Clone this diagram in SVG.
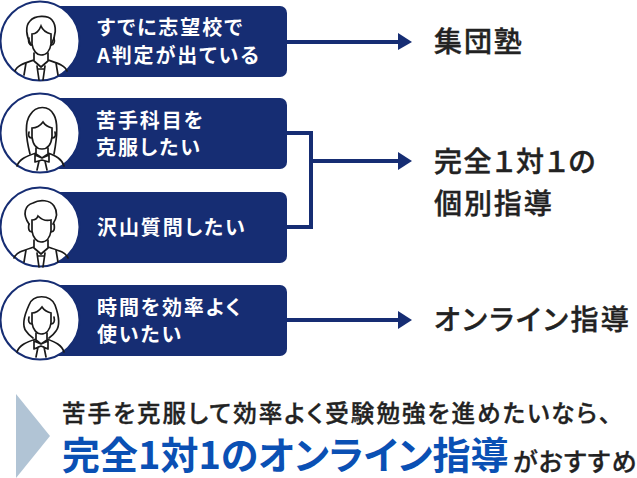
<svg xmlns="http://www.w3.org/2000/svg" width="637" height="478" viewBox="0 0 637 478">
<style>
text{font-family:"Noto Sans CJK JP","Noto Sans",sans-serif;font-feature-settings:"palt"}
.bar{fill:#162d73}
.ring{fill:#fff;stroke:#162d73;stroke-width:2}
.ic{fill:none;stroke:#1a1a1a;stroke-width:1.7;stroke-linejoin:round;stroke-linecap:round}
.face{fill:#fff;stroke:#1a1a1a;stroke-width:1.7}
.lb{fill:#fff;font-size:20px;font-weight:700;letter-spacing:1.9px}
.dst{fill:#222;stroke:#222;stroke-width:.4px;font-size:28px;font-weight:500;letter-spacing:1.9px}
.cn{fill:none;stroke:#162d73;stroke-width:4}
.ah{fill:#162d73}
</style>
<g id="node-1">
<rect class="bar" x="30" y="6" width="257" height="71" rx="7"/>
<circle class="ring" cx="40" cy="41" r="39.5"/>
<path class="ic" d="M31 45C26 36 25 26 30 21C35 15 48 15 52 20C57 26 56 36 51 45"/>
<path class="face" d="M32 34V44C33 51 37 55 41 55C46 55 50 51 51 44V34C47 33 43 31 41 26C39 31 36 34 32 34Z"/>
<path class="ic" d="M29 38C28 42 29 45 32 45M54 38C55 42 54 45 51 45M34 53V61L41 67L48 61V53M15 71C17 65 25 63 34 60M67 71C65 65 57 63 48 60M26 63L24 75M56 63L58 75M37 66L39 80M45 66L43 80M38 69H44"/>
<text class="lb" x="97" y="35">すでに志望校で</text>
<text class="lb" x="97" y="63">A判定が出ている</text>
</g>
<g id="node-2">
<rect class="bar" x="30" y="98" width="257" height="71" rx="7"/>
<circle class="ring" cx="40" cy="133" r="39.5"/>
<path class="ic" d="M30 154C26 138 25 122 30 115C36 105 49 105 54 115C58 122 57 138 54 154"/>
<path class="face" d="M32 128V137C33 145 37 149 42 149C47 149 51 145 52 137V128C48 127 45 125 43 122C40 126 36 128 32 128Z"/>
<path class="ic" d="M29 132C28 136 29 138 32 138M55 132C56 136 55 138 52 138M36 148V154L42 158L48 154V148M17 166C19 159 27 156 36 153M64 166C62 159 56 156 48 153M42 158L35 155V162L42 160L49 162V155L42 158M39 161L37 170M45 161L47 170"/>
<text class="lb" x="96" y="128">苦手科目を</text>
<text class="lb" x="96" y="155">克服したい</text>
</g>
<g id="node-3">
<rect class="bar" x="30" y="192" width="257" height="71" rx="7"/>
<circle class="ring" cx="40" cy="227" r="39.5"/>
<path class="ic" d="M29 224C22 214 25 205 33 203C40 199 50 200 54 206C58 212 57 218 53 224"/>
<path class="face" d="M32 220V231C33 238 37 242 41 242C46 242 50 238 51 231V220C47 221 42 220 38 216C37 219 35 220 32 220Z"/>
<path class="ic" d="M29 224C28 229 29 232 32 232M54 224C55 229 54 232 51 232M34 240V248L41 254L48 248V240M14 258C16 252 25 250 34 247M68 258C66 252 57 250 48 247M26 250L24 262M56 250L58 262M37 253L39 267M45 253L43 267M38 256H44"/>
<text class="lb" x="97" y="235">沢山質問したい</text>
</g>
<g id="node-4">
<rect class="bar" x="30" y="285" width="257" height="71" rx="7"/>
<circle class="ring" cx="40" cy="320" r="39.5"/>
<path class="ic" d="M29 305C24 316 22 326 26 331C28 334 30 336 33 338M55 305C59 316 60 326 56 331C54 334 52 336 49 338M29 305C33 294 50 294 55 305"/>
<path class="face" d="M32 313V323C33 330 37 334 41 334C46 334 50 330 51 323V313C47 312 44 310 42 307C39 311 36 313 32 313Z"/>
<path class="ic" d="M29 317C28 321 29 324 32 324M54 317C55 321 54 324 51 324M36 333V340L41 344L47 340V333M17 352C19 345 27 342 36 339M64 352C62 345 55 342 47 339M41 344L34 341V349L41 346L48 349V341L41 344M38 347L36 357M44 347L46 357"/>
<text class="lb" x="97" y="315">時間を効率よく</text>
<text class="lb" x="97" y="342">使いたい</text>
</g>
<g id="connectors">
<path class="cn" d="M287 42H399"/>
<path class="ah" d="M398 33L412 42L398 50Z"/>
<path class="cn" d="M287 133H311V227H287M311 161H399"/>
<path class="ah" d="M398 152L412 161L398 170Z"/>
<path class="cn" d="M287 320H399"/>
<path class="ah" d="M398 311L412 320L398 329Z"/>
</g>
<g id="dest-1"><text class="dst" x="434" y="52">集団塾</text></g>
<g id="dest-2"><text class="dst" x="434" y="172" style="letter-spacing:1.6px">完全１対１の</text><text class="dst" x="434" y="214">個別指導</text></g>
<g id="dest-3"><text class="dst" x="434" y="330" style="letter-spacing:2.4px">オンライン指導</text></g>
<g id="callout">
<path fill="#b1c4d5" d="M16 394L50 436L16 478Z"/>
<text x="62" y="422" fill="#222" stroke="#222" stroke-width=".4" font-size="23.500" font-weight="500" letter-spacing="2.100">苦手を克服して効率よく受験勉強を進めたいなら、</text>
<text x="62" y="469" fill="#0a50b4" font-size="38" font-weight="700">完全1対1のオンライン指導</text>
<text x="513" y="471" fill="#222" stroke="#222" stroke-width=".3" font-size="25" font-weight="500" letter-spacing="1.200">がおすすめ</text>
</g>
</svg>
